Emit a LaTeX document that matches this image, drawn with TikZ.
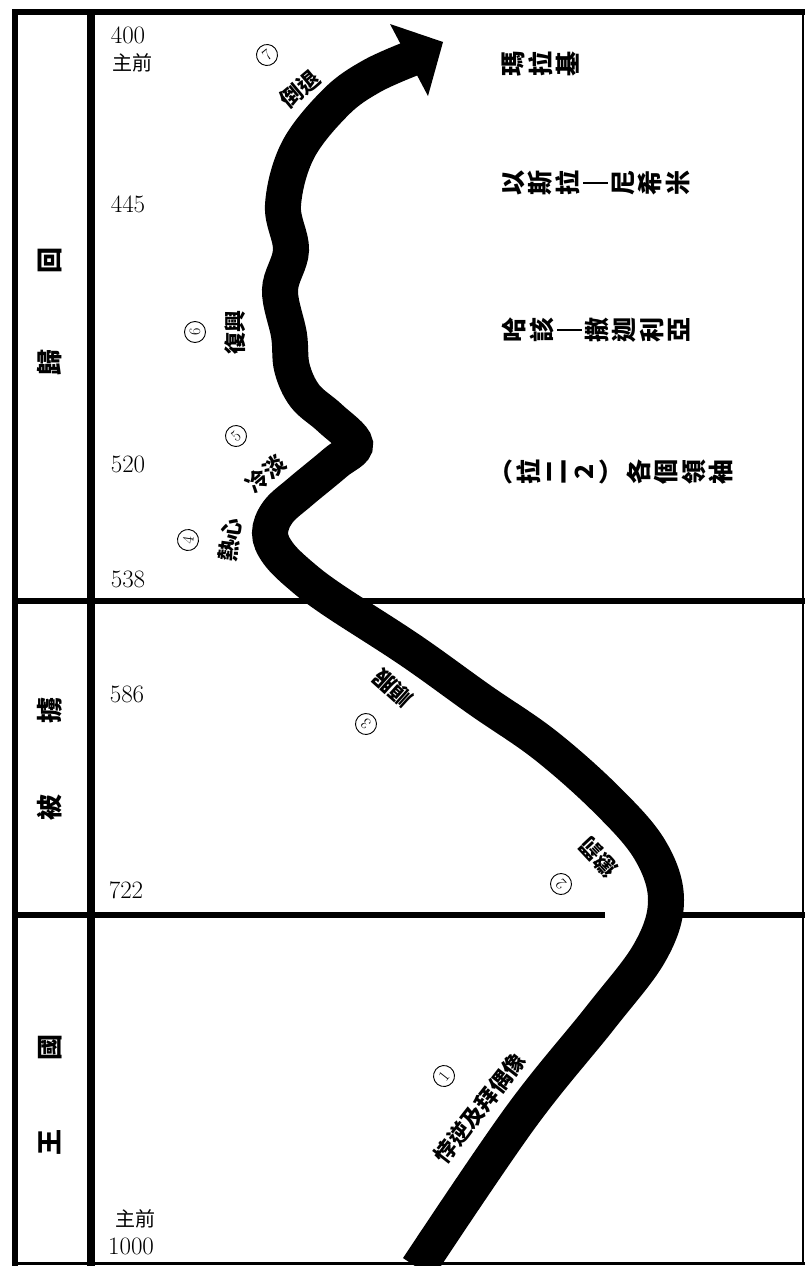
\documentclass[tikz,border=0pt]{standalone}
\usepackage{fontspec}
\newfontfamily\cjk{Noto Sans CJK TC}
\usepackage{tikz}

\newcommand{\longdash}{\rule[-3pt]{2.6pt}{25pt}}

\begin{document}
\begin{tikzpicture}[
    x=1pt, y=-1pt,
    frame/.style={line width=6pt},
    thin_frame/.style={line width=2pt},
    trend/.style={line width=36pt},
    era/.style={font=\cjk\bfseries\fontsize{26}{26}\selectfont, rotate=90, inner sep=0pt},
    yr/.style={font=\fontsize{25}{25}\selectfont, inner sep=0pt},
    bc/.style={font=\cjk\fontsize{20}{20}\selectfont, inner sep=0pt},
    leader/.style={font=\cjk\bfseries\fontsize{25}{27.5}\selectfont, rotate=90, align=center, inner sep=0pt},
    stage/.style={font=\cjk\bfseries\fontsize{22}{22}\selectfont, inner sep=0pt},
    num/.style={circle, draw, line width=0.9pt, inner sep=0pt, minimum size=21pt, font=\fontsize{16}{16}\selectfont}
  ]
  \useasboundingbox (0,0) rectangle (805,1266);

  % Cornice e divisioni
  \draw[frame] (12,12) -- (805,12);
  \draw[frame] (15,9) -- (15,1266);
  \draw[line width=8pt] (91,9) -- (91,1266);
  \draw[thin_frame] (803,12) -- (803,1263);
  \draw[line width=3pt] (15,1263) -- (805,1263);
  \draw[frame] (15,601) -- (805,601);
  \draw[frame] (15,915) -- (605,915);
  \draw[frame] (650,915) -- (805,915);

  % Periodi
  \node[era] (wang) at (50,1142) {王};
  \node[era] (guo)  at (50,1047) {國};
  \node[era] (bei)  at (50,807) {被};
  \node[era] (lu)   at (50,710) {擄};
  \node[era] (gui)  at (50,362) {歸};
  \node[era] (hui)  at (50,260) {回};

  % Anni
  \node[yr] (y400)  at (128,35) {400};
  \node[bc] (bc_top) at (132,63) {主前};
  \node[yr] (y445)  at (128,204) {445};
  \node[yr] (y520)  at (128,464) {520};
  \node[yr] (y538)  at (128,579) {538};
  \node[yr] (y586)  at (127,694) {586};
  \node[yr] (y722)  at (126,890) {722};
  \node[bc] (bc_bot) at (135,1219) {主前};
  \node[yr] (y1000) at (131,1246) {1000};

  % Capi e profeti
  \node[leader] (mal) at (541,64) {瑪\\拉\\基};
  \node[leader] (ezr) at (596,183) {以\\斯\\拉\\\longdash\\尼\\希\\米};
  \node[leader] (hag) at (596,330) {哈\\該\\\longdash\\撒\\迦\\利\\亞};
  \node[leader] (ldr) at (619,472) {︵\\拉\\二\\2\\︶\\各\\個\\領\\袖};

  % Freccia
  \draw[trend] plot[smooth, tension=0.6] coordinates {(418,1268) (520,1118) (600,1018) (650,952) (666,900) (650,850) (607,800) (545,745) (480,700) (410,650) (333,600) (300,575) (278,553) (270,533) (278,512) (300,492) (335,463) (355,444) (330,418) (305,396) (292,368) (289,335) (280,290) (291,250) (283,205) (298,150) (336,102) (372,76) (415,57)};
  \fill (390,24) -- (443,42) -- (428,96) -- cycle;

  % Tappe
  \node[num, rotate=52]  (n1) at (444,1076) {1};
  \node[stage, rotate=52] (s1) at (480,1108) {悖逆及拜偶像};
  \node[num, rotate=133]  (n2) at (561,884) {2};
  \node[stage, rotate=133] (s2) at (598,857) {懲罰};
  \node[num, rotate=138]  (n3) at (366,724) {3};
  \node[stage, rotate=138] (s3) at (393,688) {順服};
  \node[num, rotate=82]  (n4) at (188,540) {4};
  \node[stage, rotate=82] (s4) at (230,540) {熱心};
  \node[num, rotate=41]  (n5) at (236,436) {5};
  \node[stage, rotate=41] (s5) at (266,474) {冷淡};
  \node[num, rotate=90]  (n6) at (195,332) {6};
  \node[stage, rotate=90] (s6) at (235,332) {復興};
  \node[num, rotate=40]  (n7) at (267,55) {7};
  \node[stage, rotate=40] (s7) at (300,89) {倒退};
\end{tikzpicture}
\end{document}
